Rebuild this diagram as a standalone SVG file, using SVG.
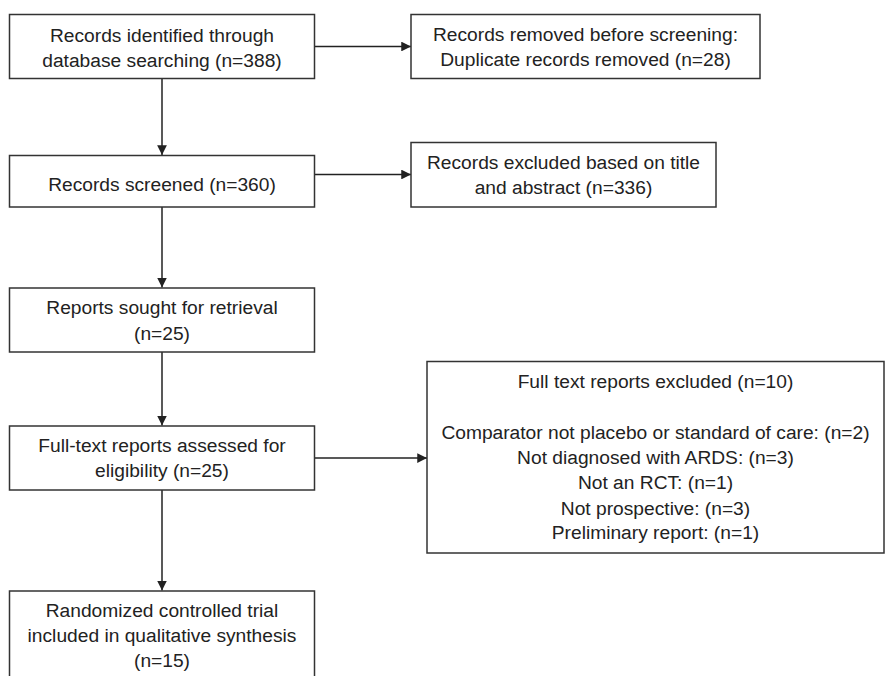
<svg xmlns="http://www.w3.org/2000/svg" width="885" height="676" viewBox="0 0 885 676">
<style>
.box{fill:#fff;stroke:#333;stroke-width:1.5}
.t{font-family:"Liberation Sans",Arial,sans-serif;font-size:19.2px;fill:#222;text-anchor:middle}
.c{stroke:#222;stroke-width:1.5;fill:none;marker-end:url(#ah)}
</style>
<defs>
<marker id="ah" viewBox="0 0 10 10" refX="10" refY="5" markerWidth="6.5" markerHeight="6.5" orient="auto" markerUnits="strokeWidth">
<path d="M0,0 L10,5 L0,10 z" fill="#222"/>
</marker>
</defs>
<rect width="885" height="676" fill="#fff"/>
<g id="connectors">
<line class="c" x1="162" y1="79" x2="162" y2="155"/>
<line class="c" x1="162" y1="207" x2="162" y2="287.5"/>
<line class="c" x1="162" y1="352" x2="162" y2="425.5"/>
<line class="c" x1="162" y1="490" x2="162" y2="590.5"/>
<line class="c" x1="315" y1="46.5" x2="411" y2="46.5"/>
<line class="c" x1="315" y1="174.5" x2="411" y2="174.5"/>
<line class="c" x1="315" y1="458" x2="427" y2="458"/>
</g>
<g id="n1">
<rect class="box" x="9.5" y="14.5" width="305" height="64"/>
<text class="t" x="162" y="41.5">Records identified through</text>
<text class="t" x="162" y="66.5">database searching (n=388)</text>
</g>
<g id="n2">
<rect class="box" x="411" y="14.5" width="349" height="64"/>
<text class="t" x="585.5" y="41">Records removed before screening:</text>
<text class="t" x="585.5" y="66">Duplicate records removed (n=28)</text>
</g>
<g id="n3">
<rect class="box" x="9.5" y="155.5" width="305" height="51.5"/>
<text class="t" x="162" y="191">Records screened (n=360)</text>
</g>
<g id="n4">
<rect class="box" x="411" y="142.5" width="305" height="64.5"/>
<text class="t" x="563.5" y="169">Records excluded based on title</text>
<text class="t" x="563.5" y="194">and abstract (n=336)</text>
</g>
<g id="n5">
<rect class="box" x="9.5" y="288" width="305" height="64"/>
<text class="t" x="162" y="313.5">Reports sought for retrieval</text>
<text class="t" x="162" y="340">(n=25)</text>
</g>
<g id="n6">
<rect class="box" x="9.5" y="426" width="305" height="64"/>
<text class="t" x="162" y="451.5">Full-text reports assessed for</text>
<text class="t" x="162" y="477">eligibility (n=25)</text>
</g>
<g id="n7">
<rect class="box" x="9.5" y="591" width="305" height="95"/>
<text class="t" x="162" y="616.5">Randomized controlled trial</text>
<text class="t" x="162" y="641.5">included in qualitative synthesis</text>
<text class="t" x="162" y="666.5">(n=15)</text>
</g>
<g id="n8">
<rect class="box" x="427" y="361.5" width="457" height="191.5"/>
<text class="t" x="655.5" y="388">Full text reports excluded (n=10)</text>
<text class="t" x="655.5" y="439">Comparator not placebo or standard of care: (n=2)</text>
<text class="t" x="655.5" y="464">Not diagnosed with ARDS: (n=3)</text>
<text class="t" x="655.5" y="489">Not an RCT: (n=1)</text>
<text class="t" x="655.5" y="514.5">Not prospective: (n=3)</text>
<text class="t" x="655.5" y="539">Preliminary report: (n=1)</text>
</g>
</svg>
